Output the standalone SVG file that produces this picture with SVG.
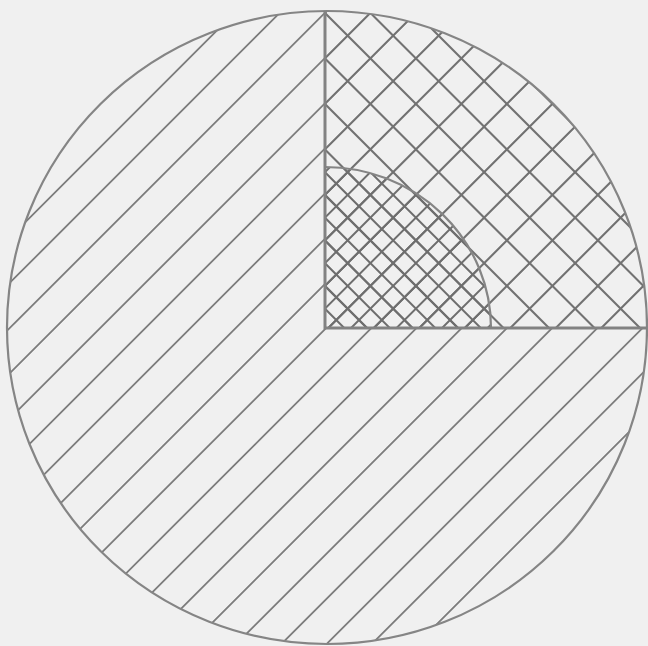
<svg xmlns="http://www.w3.org/2000/svg" width="648" height="646" viewBox="0 0 648 646">
  <defs>
    <style>
      .hatch { fill: none; stroke: #7c7c7c; stroke-width: 1.8; }
      .cross { fill: none; stroke: #727272; stroke-width: 2.1; }
      .fine { fill: none; stroke: #6e6e6e; stroke-width: 2; }
      .outline { fill: none; stroke: #858585; stroke-width: 2.2; }
      .divider { fill: none; stroke: #828282; stroke-width: 3; }
    </style>
    <clipPath id="clipMain">
      <path d="M325 328 L325 11 A320 316.5 0 1 0 647 328 Z"/>
    </clipPath>
    <clipPath id="clipQuad">
      <path d="M325 328 L325 11 A320 316.5 0 0 1 647 328 Z"/>
    </clipPath>
    <clipPath id="clipCore">
      <path d="M325 328 L325 167 A166 161 0 0 1 491 328 Z"/>
    </clipPath>
  </defs>

  <rect x="0" y="0" width="648" height="646" fill="#f0f0f0"/>

  <g id="region-hatched" clip-path="url(#clipMain)">
    <path class="hatch" d="M247.4 0L-402.6 650 M292.6 0L-357.4 650 M337.8 0L-312.2 650 M383 0L-267 650 M428.2 0L-221.8 650 M473.4 0L-176.6 650 M518.6 0L-131.4 650 M563.8 0L-86.2 650 M609 0L-41 650 M654.2 0L4.2 650 M699.4 0L49.4 650 M744.6 0L94.6 650 M789.8 0L139.8 650 M835 0L185 650 M880.2 0L230.2 650 M925.4 0L275.4 650 M970.6 0L320.6 650 M1015.8 0L365.8 650 M1061 0L411 650"/>
  </g>

  <g id="region-crosshatched" clip-path="url(#clipQuad)">
    <path class="cross" d="M337.8 0L-312.2 650 M383.3 0L-266.7 650 M428.8 0L-221.2 650 M474.3 0L-175.7 650 M519.8 0L-130.2 650 M565.3 0L-84.7 650 M610.8 0L-39.2 650 M656.3 0L6.3 650 M701.8 0L51.8 650 M747.3 0L97.3 650 M792.8 0L142.8 650 M838.3 0L188.3 650 M883.8 0L233.8 650 M929.3 0L279.3 650 M974.8 0L324.8 650"/>
    <path class="cross" d="M39 0L689 650 M84.5 0L734.5 650 M130 0L780 650 M175.5 0L825.5 650 M221 0L871 650 M266.5 0L916.5 650 M312 0L962 650 M357.5 0L1007.5 650 M403 0L1053 650 M448.5 0L1098.5 650"/>
  </g>

  <g id="region-core" >
    <g clip-path="url(#clipCore)">
      <path class="fine" d="M497.05 0L-152.95 650 M519.8 0L-130.2 650 M542.55 0L-107.45 650 M565.3 0L-84.7 650 M588.05 0L-61.95 650 M610.8 0L-39.2 650 M633.55 0L-16.45 650 M656.3 0L6.3 650 M679.05 0L29.05 650 M701.8 0L51.8 650 M724.55 0L74.55 650 M747.3 0L97.3 650 M770.05 0L120.05 650 M792.8 0L142.8 650 M815.55 0L165.55 650"/>
      <path class="fine" d="M16.25 0L666.25 650 M39 0L689 650 M61.75 0L711.75 650 M84.5 0L734.5 650 M107.25 0L757.25 650 M130 0L780 650 M152.75 0L802.75 650 M175.5 0L825.5 650 M198.25 0L848.25 650 M221 0L871 650"/>
    </g>
    <path class="outline" d="M325 167 A166 161 0 0 1 491 328"/>
  </g>

  <g id="circle">
    <ellipse class="outline" cx="327" cy="327.5" rx="320" ry="316.5"/>
  </g>

  <g id="dividers">
    <path class="divider" d="M325 11 L325 328 L647 328"/>
  </g>
</svg>
